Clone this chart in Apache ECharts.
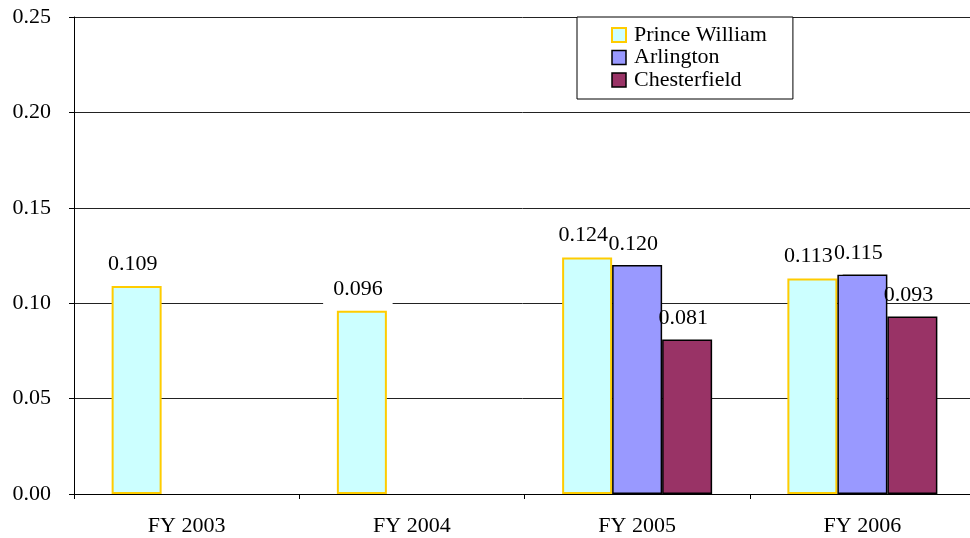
<!DOCTYPE html>
<html>
<head>
<meta charset="utf-8">
<script src="https://cdn.jsdelivr.net/npm/echarts@6/dist/echarts.min.js"></script>
<style>
  html, body { margin: 0; padding: 0; background: #fff; }
  #chart { width: 970px; height: 538px; }
</style>
</head>
<body>
<div id="chart"></div>
<script>
// Fiscal years on the category axis
const categories = ['FY 2003', 'FY 2004', 'FY 2005', 'FY 2006'];

// Values per county (null where no figure was reported)
const princeWilliam = [0.109, 0.096, 0.124, 0.113];
const arlington     = [null, null, 0.120, 0.115];
const chesterfield  = [null, null, 0.081, 0.093];

// Value-axis range and tick step
const yMin = 0;
const yMax = 0.25;
const yStep = 0.05;

const FONT = 'Liberation Serif';
const FS = 22;

const chart = echarts.init(document.getElementById('chart'), null, { renderer: 'canvas' });

const baseLabel = {
  show: true,
  position: 'top',
  distance: 10,
  offset: [-4, 0],
  fontFamily: FONT,
  fontSize: FS,
  color: '#000',
  formatter: p => (p.value == null ? '' : Number(p.value).toFixed(3))
};

chart.setOption({
  animation: false,
  backgroundColor: '#fff',
  grid: { left: 74, top: 17, width: 901, height: 477, containLabel: false, outerBoundsMode: 'none' },
  legend: {
    orient: 'vertical',
    left: 577,
    top: 17,
    padding: [7, 26, 8, 34],
    itemWidth: 14,
    itemHeight: 14,
    itemGap: 0.5,
    backgroundColor: '#fff',
    borderColor: '#000',
    borderWidth: 1,
    icon: 'rect',
    textStyle: { fontFamily: FONT, fontSize: FS, lineHeight: 22, color: '#000', padding: [0, 0, 0, 3] },
    data: [
      { name: 'Prince William', itemStyle: { color: '#CCFFFF', borderColor: '#FFCC00', borderWidth: 2 } },
      { name: 'Arlington', itemStyle: { color: '#9999FF', borderColor: '#000', borderWidth: 1.5 } },
      { name: 'Chesterfield', itemStyle: { color: '#993366', borderColor: '#000', borderWidth: 1.5 } }
    ]
  },
  xAxis: {
    type: 'category',
    data: categories,
    boundaryGap: true,
    axisLine: { lineStyle: { color: '#000', width: 1 } },
    axisTick: { show: true, inside: false, length: 5, alignWithLabel: false, lineStyle: { color: '#000' } },
    axisLabel: { fontFamily: FONT, fontSize: FS, color: '#000', margin: 21 },
    splitLine: { show: false }
  },
  yAxis: {
    type: 'value',
    min: yMin,
    max: yMax,
    interval: yStep,
    axisLine: { show: true, lineStyle: { color: '#000', width: 1 } },
    axisTick: { show: true, inside: false, length: 5, lineStyle: { color: '#000' } },
    axisLabel: { fontFamily: FONT, fontSize: FS, color: '#000', margin: 23, formatter: v => v.toFixed(2) },
    splitLine: { show: true, lineStyle: { color: '#222', width: 1 } }
  },
  series: [
    {
      name: 'Prince William',
      type: 'bar',
      data: princeWilliam,
      barWidth: 50,
      barGap: '0%',
      itemStyle: { color: '#CCFFFF', borderColor: '#FFCC00', borderWidth: 2 },
      label: Object.assign({}, baseLabel, {
        distance: 4,
        backgroundColor: '#fff',
        padding: [3, 10, 7, 10]
      })
    },
    {
      name: 'Arlington',
      type: 'bar',
      data: arlington,
      barWidth: 50,
      barGap: '0%',
      itemStyle: { color: '#9999FF', borderColor: '#000', borderWidth: 1.5 },
      label: baseLabel
    },
    {
      name: 'Chesterfield',
      type: 'bar',
      data: chesterfield,
      barWidth: 50,
      barGap: '0%',
      itemStyle: { color: '#993366', borderColor: '#000', borderWidth: 1.5 },
      label: baseLabel
    }
  ]
});
</script>
</body>
</html>
